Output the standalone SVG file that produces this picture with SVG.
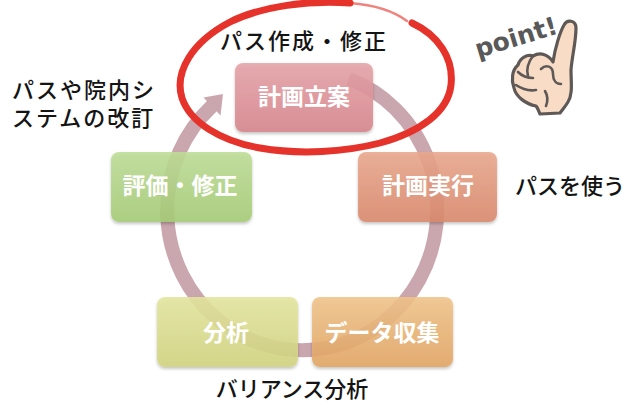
<svg xmlns="http://www.w3.org/2000/svg" width="638" height="401" viewBox="0 0 638 401">
  <defs>
    <style>
      .box { stroke: none; fill-opacity: 0.88; filter: url(#shadow); }
      .lbl { font-family: "Noto Sans CJK JP", "Noto Sans", sans-serif; font-size: 23px; font-weight: bold; fill: #ffffff; text-anchor: middle; }
      .note { font-family: "Noto Sans CJK JP", "Noto Sans", sans-serif; font-size: 22px; font-weight: 500; fill: #141414; }
      .cycle { fill: none; stroke: #c49ca5; stroke-width: 14; opacity: 0.9; }
      .ring { fill: none; stroke: #e5322a; stroke-linecap: round; stroke-linejoin: round; }
      .hand { fill: #f8dcc6; stroke: #5e5957; stroke-width: 3.2; stroke-linejoin: round; stroke-linecap: round; }
      .crease { fill: none; stroke: #5e5957; stroke-width: 2.6; stroke-linecap: round; }
    </style>
    <filter id="shadow" x="-10%" y="-10%" width="120%" height="130%">
      <feDropShadow dx="0" dy="2" stdDeviation="1.5" flood-color="#000" flood-opacity="0.25"/>
    </filter>
    <linearGradient id="gPlan" x1="0" y1="0" x2="0" y2="1">
      <stop offset="0" stop-color="#e6a3a8"/>
      <stop offset="1" stop-color="#d6858c"/>
    </linearGradient>
    <linearGradient id="gEval" x1="0" y1="0" x2="0" y2="1">
      <stop offset="0" stop-color="#bedd96"/>
      <stop offset="1" stop-color="#a5cc76"/>
    </linearGradient>
    <linearGradient id="gDo" x1="0" y1="0" x2="0" y2="1">
      <stop offset="0" stop-color="#eaa78d"/>
      <stop offset="1" stop-color="#da896c"/>
    </linearGradient>
    <linearGradient id="gAna" x1="0" y1="0" x2="0" y2="1">
      <stop offset="0" stop-color="#e4e69f"/>
      <stop offset="1" stop-color="#d2d47f"/>
    </linearGradient>
    <linearGradient id="gData" x1="0" y1="0" x2="0" y2="1">
      <stop offset="0" stop-color="#f1c48a"/>
      <stop offset="1" stop-color="#e3a564"/>
    </linearGradient>
  </defs>

  <rect width="638" height="401" fill="#ffffff"/>

  <!-- cycle arrow running clockwise round the five steps -->
  <g id="connectors">
    <path class="cycle" d="M 348.7 78.8 A 135 140 0 1 1 212 106"/>
    <polygon points="220.5,115.5 203.5,97.5 223,94" fill="#c49ca5" opacity="0.9"/>
  </g>

  <g id="plan">
    <rect class="box" x="235" y="63" width="138" height="69" rx="8" fill="url(#gPlan)"/>
    <text class="lbl" x="304" y="105" font-size="24">計画立案</text>
  </g>

  <g id="do">
    <rect class="box" x="358" y="152" width="139" height="70" rx="8" fill="url(#gDo)"/>
    <text class="lbl" x="428" y="194" font-size="24">計画実行</text>
  </g>

  <g id="data">
    <rect class="box" x="312" y="297" width="141" height="70" rx="8" fill="url(#gData)"/>
    <text class="lbl" x="382" y="341">データ収集</text>
  </g>

  <g id="analysis">
    <rect class="box" x="157" y="297" width="141" height="70" rx="8" fill="url(#gAna)"/>
    <text class="lbl" x="226" y="341" font-size="24">分析</text>
  </g>

  <g id="review">
    <rect class="box" x="111" y="152" width="141" height="70" rx="8" fill="url(#gEval)"/>
    <text class="lbl" x="180" y="194" font-size="22">評価・修正</text>
  </g>

  <!-- notes beside the steps -->
  <g id="notes">
    <text class="note" x="304" y="49" text-anchor="middle" letter-spacing="2">パス作成・修正</text>
    <text class="note" x="12" y="98" letter-spacing="2">パスや院内シ</text>
    <text class="note" x="12" y="126" letter-spacing="2">ステムの改訂</text>
    <text class="note" x="515" y="194" font-size="23">パスを使う</text>
    <text class="note" x="292" y="397" text-anchor="middle">バリアンス分析</text>
  </g>

  <!-- hand-drawn red ring round the planning step -->
  <g id="highlight">
    <path class="ring" stroke-width="7" d="M 412 23 C 438 35, 454 58, 451 85 C 448 112, 420 132, 380 143 C 345 152, 300 155, 260 148 C 220 141, 190 122, 182 98 C 174 72, 192 42, 230 22 C 262 6, 310 0, 350 3"/>
    <path class="ring" stroke-width="2.5" opacity="0.6" d="M 350 3 C 375 5, 395 12, 407 21"/>
  </g>

  <!-- pointing hand sticker -->
  <g id="point">
    <text x="478" y="58" transform="rotate(-17 478 58)" font-family="DejaVu Sans, sans-serif" font-weight="bold" font-size="25" fill="#595959">point!</text>
    <path class="hand" d="M 553 62 C 555 48, 560 32, 564 25 C 567 19, 576 20, 576 28 C 576 42, 572 56, 571 70 C 571 82, 573 94, 568 102 C 565 107, 562 110, 560 113 L 540 114 C 538 110, 538 108, 536 106 C 526 104, 516 97, 514 88 C 511 80, 512 70, 518 65 C 520 58, 527 54, 533 56 C 540 52, 548 54, 553 62 Z"/>
    <path class="crease" d="M 533 56 C 528 62, 526 70, 528 76"/>
    <path class="crease" d="M 518 72 C 522 76, 528 78, 533 78"/>
    <path class="crease" d="M 516 85 C 522 89, 530 91, 536 90"/>
    <path class="crease" d="M 541 69 C 546 64, 553 66, 553 74 C 553 80, 556 84, 561 84"/>
    <path class="crease" d="M 545 91 C 548 96, 548 101, 546 106"/>
  </g>
</svg>
